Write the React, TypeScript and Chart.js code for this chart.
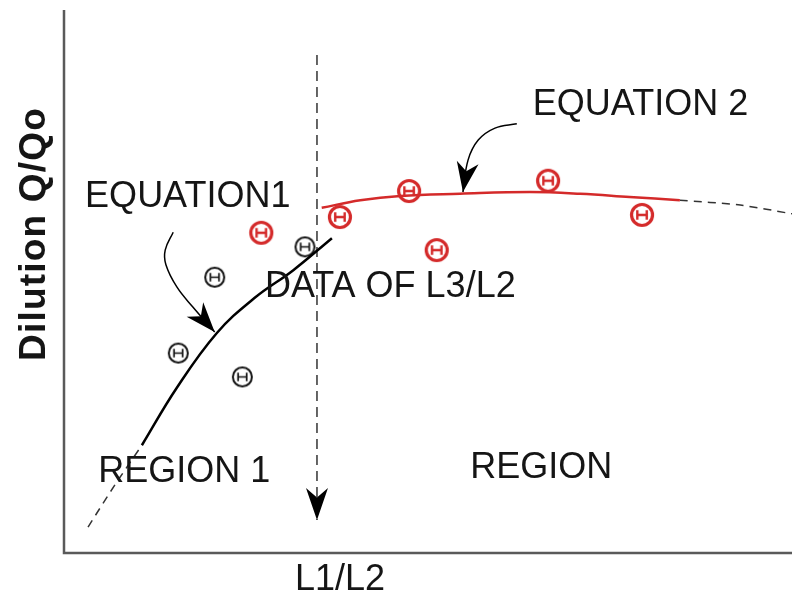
import React, { useEffect, useRef } from "react";
import { Chart, registerables } from "chart.js";
Chart.register(...registerables);

// Region 1 curve (Equation 1)
const eq1DashedX = [3.3, 7.0, 10.7];
const eq1DashedY = [4.6, 12.4, 19.7];
const eq1SolidX = [10.7, 15.5, 21.0, 26.2, 31.5, 36.8];
const eq1SolidY = [19.7, 30.3, 40.4, 46.9, 52.0, 57.9];
// Region 2 curve (Equation 2)
const eq2SolidX = [35.4, 40.7, 46.2, 54.4, 64.0, 70.9, 77.7, 84.6];
const eq2SolidY = [63.5, 64.9, 65.7, 66.1, 66.4, 66.1, 65.5, 64.9];
const eq2DashedX = [84.6, 92.9, 100];
const eq2DashedY = [64.9, 64.0, 62.4];
// Data points
const blackPtsX = [20.7, 33.1, 15.7, 24.5];
const blackPtsY = [50.7, 56.3, 36.7, 32.3];
const redPtsX = [27.1, 37.9, 47.4, 51.2, 66.5, 79.4];
const redPtsY = [58.9, 61.8, 66.6, 55.7, 68.5, 62.2];
// Arrows
const dividerX = [34.75, 34.75];
const dividerY = [91.7, 5.9];
const arrow1X = [15.0, 13.9, 14.0, 15.5, 17.7, 20.7];
const arrow1Y = [59.0, 55.7, 53.0, 48.9, 45.2, 40.6];
const arrow2X = [62.2, 59.2, 56.9, 55.5, 54.8];
const arrow2Y = [79.0, 78.2, 76.0, 72.3, 66.4];
// Annotations
const labelTexts = ["EQUATION 2", "EQUATION1", "DATA OF L3/L2", "REGION 1", "REGION"];
const labelX = [64.4, 2.9, 27.6, 4.7, 55.8];
const labelY = [80.6, 63.7, 47.0, 12.9, 13.7];
const xTitle = "L1/L2";
const yTitle = "Dilution Q/Qo";

const pts = (xs: number[], ys: number[]) => xs.map((x, i) => ({ x, y: ys[i] }));

function makeMarker(color: string, r: number, lw: number, innerLw: number) {
  const size = Math.ceil(2 * r + 2 * lw + 2);
  const c = document.createElement("canvas");
  c.width = size;
  c.height = size;
  const ctx = c.getContext("2d")!;
  const m = size / 2;
  ctx.strokeStyle = color;
  ctx.lineWidth = lw;
  ctx.beginPath();
  ctx.arc(m, m, r, 0, Math.PI * 2);
  ctx.stroke();
  ctx.lineWidth = innerLw;
  const h = r * 0.45;
  ctx.beginPath();
  ctx.moveTo(m - h, m - h);
  ctx.lineTo(m - h, m + h);
  ctx.moveTo(m + h, m - h);
  ctx.lineTo(m + h, m + h);
  ctx.moveTo(m - h, m);
  ctx.lineTo(m + h, m);
  ctx.stroke();
  return c;
}

const FONT = '"Liberation Sans", Arial, sans-serif';

const decorPlugin = {
  id: "decor",
  beforeDatasetsDraw(chart: any) {
    const { ctx, chartArea } = chart;
    ctx.save();
    ctx.strokeStyle = "#5a5a5a";
    ctx.lineWidth = 2.5;
    ctx.beginPath();
    ctx.moveTo(chartArea.left, chartArea.top);
    ctx.lineTo(chartArea.left, chartArea.bottom + 1);
    ctx.lineTo(chartArea.right, chartArea.bottom + 1);
    ctx.stroke();
    ctx.restore();
  },
  afterDatasetsDraw(chart: any) {
    const { ctx, scales } = chart;
    const xs = scales.x;
    const ys = scales.y;
    ctx.save();
    // arrowheads
    const heads: [number[], number[], number][] = [
      [arrow1X, arrow1Y, 30],
      [arrow2X, arrow2Y, 30],
      [dividerX, dividerY, 32],
    ];
    ctx.fillStyle = "#000";
    heads.forEach(([ax, ay, len]) => {
      const n = ax.length;
      const tx = xs.getPixelForValue(ax[n - 1]);
      const ty = ys.getPixelForValue(ay[n - 1]);
      const px = xs.getPixelForValue(ax[n - 2]);
      const py = ys.getPixelForValue(ay[n - 2]);
      const ang = Math.atan2(ty - py, tx - px);
      const w = 11;
      const cos = Math.cos(ang), sin = Math.sin(ang);
      const bx = tx - cos * len, by = ty - sin * len;
      const nx = tx - cos * len * 0.7, ny = ty - sin * len * 0.7;
      ctx.beginPath();
      ctx.moveTo(tx, ty);
      ctx.lineTo(bx - sin * w, by + cos * w);
      ctx.lineTo(nx, ny);
      ctx.lineTo(bx + sin * w, by - cos * w);
      ctx.closePath();
      ctx.fill();
    });
    // labels
    ctx.fillStyle = "#151515";
    ctx.font = `36px ${FONT}`;
    ctx.textBaseline = "alphabetic";
    ctx.textAlign = "left";
    labelTexts.forEach((t, i) => {
      ctx.fillText(t, xs.getPixelForValue(labelX[i]), ys.getPixelForValue(labelY[i]));
    });
    // axis titles
    ctx.textAlign = "center";
    ctx.fillText(xTitle, 340, 590);
    ctx.translate(45, 234);
    ctx.rotate(-Math.PI / 2);
    ctx.font = `bold 37px ${FONT}`;
    (ctx as any).letterSpacing = "1.2px";
    ctx.fillText(yTitle, 0, 0);
    ctx.restore();
  },
};

export default function App() {
  const ref = useRef<HTMLCanvasElement>(null);
  useEffect(() => {
    const blackMarker = makeMarker("#111", 9.5, 2, 1.7);
    const redMarker = makeMarker("#d42a2a", 10.5, 3.2, 2.4);
    const chart = new Chart(ref.current!, {
      type: "scatter",
      data: {
        datasets: [
          { data: pts(eq1DashedX, eq1DashedY), showLine: true, borderColor: "#333", borderWidth: 1.5, borderDash: [8, 6], pointRadius: 0, tension: 0.3 },
          { data: pts(eq1SolidX, eq1SolidY), showLine: true, borderColor: "#000", borderWidth: 2.5, pointRadius: 0, tension: 0.4 },
          { data: pts(eq2SolidX, eq2SolidY), showLine: true, borderColor: "#d42a2a", borderWidth: 2.5, pointRadius: 0, tension: 0.4 },
          { data: pts(eq2DashedX, eq2DashedY), showLine: true, borderColor: "#333", borderWidth: 1.5, borderDash: [8, 6], pointRadius: 0, tension: 0.3 },
          { data: pts(dividerX, dividerY), showLine: true, borderColor: "#333", borderWidth: 1.5, borderDash: [10, 6], pointRadius: 0 },
          { data: pts(arrow1X, arrow1Y), showLine: true, borderColor: "#000", borderWidth: 1.5, pointRadius: 0, tension: 0.4 },
          { data: pts(arrow2X, arrow2Y), showLine: true, borderColor: "#000", borderWidth: 1.5, pointRadius: 0, tension: 0.4 },
          { data: pts(blackPtsX, blackPtsY), showLine: false, pointStyle: blackMarker as any, pointRadius: 10 },
          { data: pts(redPtsX, redPtsY), showLine: false, pointStyle: redMarker as any, pointRadius: 12 },
        ],
      },
      options: {
        animation: false,
        responsive: false,
        devicePixelRatio: 1,
        layout: { autoPadding: false, padding: { left: 64, top: 10, right: 0, bottom: 44 } },
        scales: {
          x: { type: "linear", min: 0, max: 100, display: false },
          y: { type: "linear", min: 0, max: 100, display: false },
        },
        plugins: { legend: { display: false }, tooltip: { enabled: false } },
        events: [],
      },
      plugins: [decorPlugin],
    });
    return () => chart.destroy();
  }, []);
  return (
    <div style={{ position: "fixed", left: 0, top: 0, width: 792, height: 596, background: "#fff" }}>
      <canvas ref={ref} width={792} height={596} style={{ display: "block" }} />
    </div>
  );
}
